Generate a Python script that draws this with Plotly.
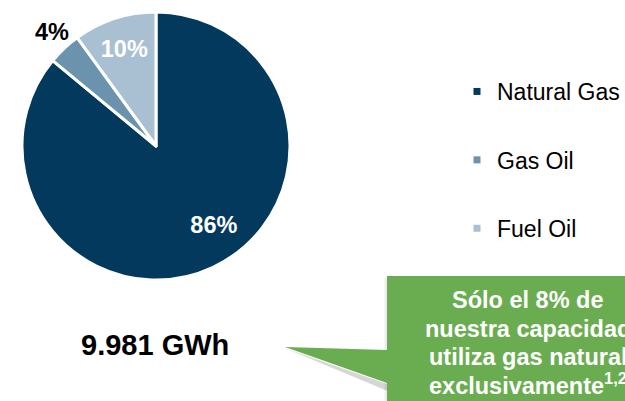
import math
import plotly.graph_objects as go

# ---- data ----
categories = ["Natural Gas", "Gas Oil", "Fuel Oil"]
shares = [86, 4, 10]
colors = ["#02395C", "#6B93AE", "#A8C0D1"]
label_positions = ["inside", "none", "inside"]
total_label = "9.981 GWh"
callout_lines = ["Sólo el 8% de", "nuestra capacidad", "utiliza gas natural",
                 "exclusivamente<sup>1,2</sup>"]

W, H = 625, 401
def X(px):
    return px / W
def Y(py):
    return 1 - py / H

FONT = "Liberation Sans, Arial, sans-serif"
NB = "\u00a0"

# slice labels: the big slice label is nudged outward with non-breaking padding
slice_text = []
for i, v in enumerate(shares):
    if i == 0:
        slice_text.append(f"<span style='font-size:30px'>{NB}</span><br>{NB * 9}{v}%")
    else:
        slice_text.append(f"{v}%")

fig = go.Figure()

cx, cy, r = 156, 146, 134
fig.add_trace(go.Pie(
    labels=categories, values=shares, sort=False, direction="clockwise", rotation=0,
    marker=dict(colors=colors, line=dict(color="white", width=3)),
    text=slice_text, textinfo="text", textposition=label_positions,
    insidetextfont=dict(color="white", size=23.5, family=FONT, weight="bold"),
    insidetextorientation="horizontal",
    domain=dict(x=[X(cx - r), X(cx + r)], y=[Y(cy + r), Y(cy - r)]),
    showlegend=False, hoverinfo="label+value",
))

# legend entries (one per category, spaced via groups)
for name, col in zip(categories, colors):
    fig.add_trace(go.Scatter(
        x=[None], y=[None], mode="markers", name=name, legendgroup=name,
        marker=dict(symbol="square", size=7, color=col),
    ))

shapes = []
# callout shadow
shapes.append(dict(type="path", xref="paper", yref="paper",
                   path=f"M {X(287)},{Y(349)} L {X(390)},{Y(385)} L {X(390)},{Y(392)} Z",
                   fillcolor="rgba(0,0,0,0.16)", line=dict(width=0), layer="below"))
shapes.append(dict(type="rect", xref="paper", yref="paper",
                   x0=X(384.5), x1=X(388), y0=Y(420), y1=Y(278),
                   fillcolor="rgba(0,0,0,0.07)", line=dict(width=0), layer="below"))
# callout box with pointer
shapes.append(dict(type="path", xref="paper", yref="paper",
                   path=(f"M {X(387)},{Y(276)} L {X(700)},{Y(276)} L {X(700)},{Y(420)} "
                         f"L {X(387)},{Y(420)} L {X(387)},{Y(383)} L {X(285)},{Y(347)} "
                         f"L {X(387)},{Y(350)} Z"),
                   fillcolor="#6AAD50", line=dict(width=0), layer="below"))

annotations = []
# outside label for the small slice, placed at its mid angle just beyond the rim
total = sum(shares)
start = 0.0
for i, v in enumerate(shares):
    mid = (start + v / 2) / total * 2 * math.pi
    start += v
    if label_positions[i] == "none":
        lx = cx + 1.17 * r * math.sin(mid)
        ly = cy - 1.17 * r * math.cos(mid)
        annotations.append(dict(x=X(lx + 3), y=Y(ly), xref="paper", yref="paper",
                                text=f"{v}%", showarrow=False,
                                xanchor="center", yanchor="middle",
                                font=dict(size=23.5, color="black", family=FONT, weight="bold")))

annotations.append(dict(x=X(155), y=Y(345), xref="paper", yref="paper", text=total_label,
                        showarrow=False, font=dict(size=29, color="black", family=FONT, weight="bold"),
                        xanchor="center", yanchor="middle"))
line_y = [299.5, 328.5, 357, 384]
for t, yy in zip(callout_lines, line_y):
    annotations.append(dict(x=X(528), y=Y(yy), xref="paper", yref="paper", text=t,
                            showarrow=False, xanchor="center", yanchor="middle",
                            font=dict(size=23.5, color="white", family=FONT, weight="bold")))

fig.update_layout(
    width=W, height=H, margin=dict(l=0, r=0, t=0, b=0),
    paper_bgcolor="white", plot_bgcolor="white",
    xaxis=dict(visible=False), yaxis=dict(visible=False),
    showlegend=True,
    legend=dict(x=X(457), y=Y(70), xanchor="left", yanchor="top",
                font=dict(size=23, color="black", family=FONT),
                tracegroupgap=35.5, bgcolor="rgba(0,0,0,0)", itemwidth=30),
    shapes=shapes, annotations=annotations,
)

post = ("document.documentElement.style.overflow='hidden';"
        "document.body.style.margin='0';"
        "document.body.style.overflow='hidden';")
fig.write_html("out.html", config={"displayModeBar": False}, post_script=post)
